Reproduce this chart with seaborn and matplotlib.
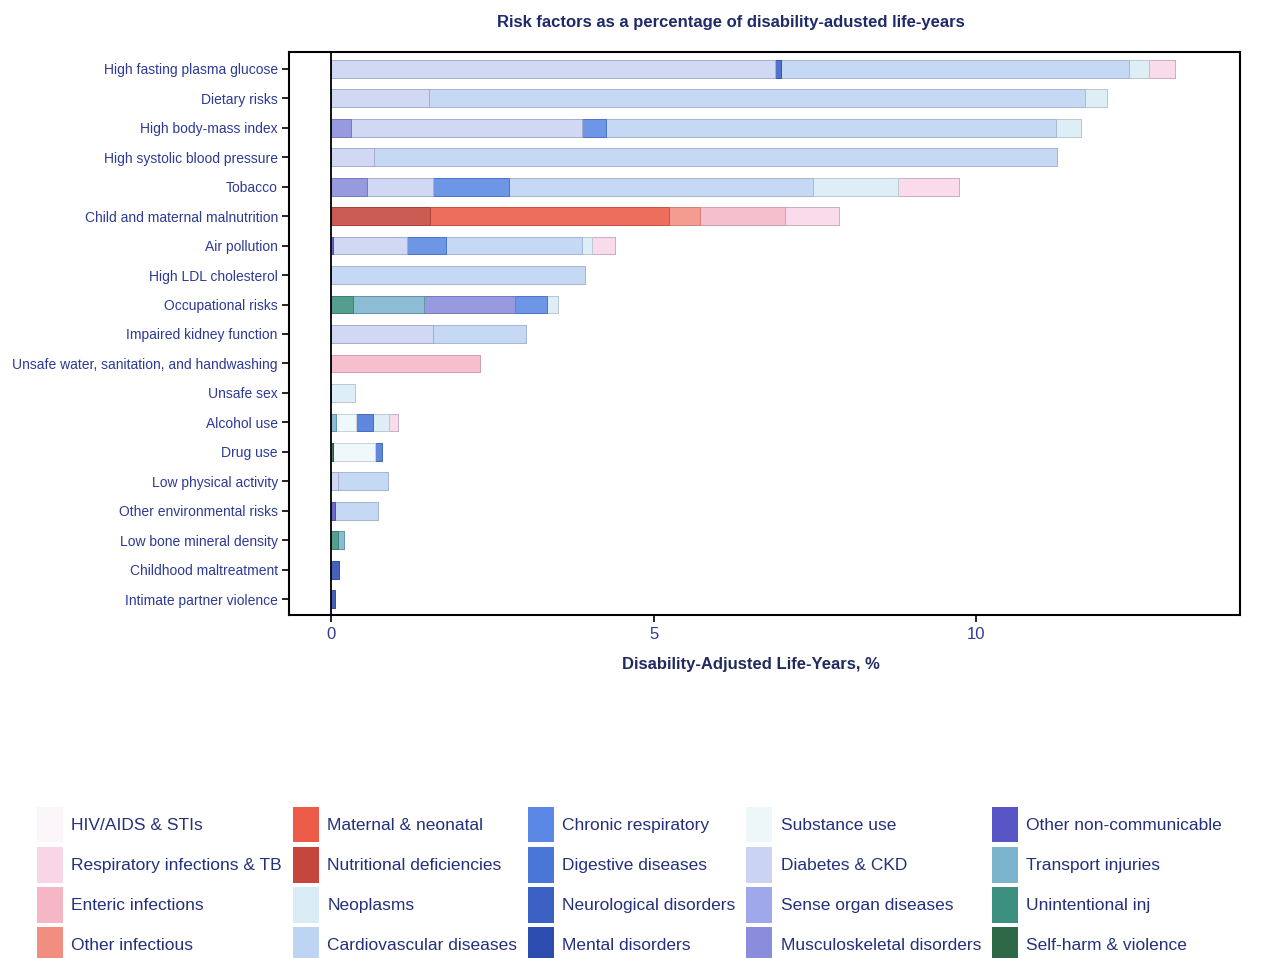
import matplotlib
matplotlib.use("Agg")
import matplotlib.pyplot as plt
from matplotlib.patches import Patch
import numpy as np
import pandas as pd
import seaborn as sns

# Risk factors, top to bottom
risks = [
    "High fasting plasma glucose", "Dietary risks", "High body-mass index",
    "High systolic blood pressure", "Tobacco", "Child and maternal malnutrition",
    "Air pollution", "High LDL cholesterol", "Occupational risks",
    "Impaired kidney function", "Unsafe water, sanitation, and handwashing",
    "Unsafe sex", "Alcohol use", "Drug use", "Low physical activity",
    "Other environmental risks", "Low bone mineral density",
    "Childhood maltreatment", "Intimate partner violence",
]

# Cause groups in legend order, with their colours
causes = [
    "HIV/AIDS & STIs", "Respiratory infections & TB", "Enteric infections", "Other infectious",
    "Maternal & neonatal", "Nutritional deficiencies", "Neoplasms", "Cardiovascular diseases",
    "Chronic respiratory", "Digestive diseases", "Neurological disorders", "Mental disorders",
    "Substance use", "Diabetes & CKD", "Sense organ diseases", "Musculoskeletal disorders",
    "Other non-communicable", "Transport injuries", "Unintentional inj", "Self-harm & violence",
]
cause_colors = [
    "#fbf6f9", "#f8d6e8", "#f5b6c6", "#f28e80",
    "#ec5a48", "#c4463c", "#d9ecf6", "#bdd4f2",
    "#5a88e4", "#4a76d8", "#3a60c4", "#2c4cb0",
    "#edf7fa", "#cbd3f3", "#a0a8ec", "#8a8cdc",
    "#5856c6", "#7cb4ce", "#3d9080", "#2e6846",
]

# DALY share (%) attributable to each risk, per cause (one value per risk factor)
hiv_stis      = [0, 0, 0, 0, 0, 0, 0, 0, 0, 0, 0, 0, 0, 0, 0, 0, 0, 0, 0]
resp_inf_tb   = [0.41, 0, 0, 0, 0.95, 0.85, 0.36, 0, 0, 0, 0, 0, 0.14, 0, 0, 0, 0, 0, 0]
enteric       = [0, 0, 0, 0, 0, 1.32, 0, 0, 0, 0, 2.30, 0, 0, 0, 0, 0, 0, 0, 0]
other_inf     = [0, 0, 0, 0, 0, 0.47, 0, 0, 0, 0, 0, 0, 0, 0, 0, 0, 0, 0, 0]
maternal      = [0, 0, 0, 0, 0, 3.71, 0, 0, 0, 0, 0, 0, 0, 0, 0, 0, 0, 0, 0]
nutritional   = [0, 0, 0, 0, 0, 1.53, 0, 0, 0, 0, 0, 0, 0, 0, 0, 0, 0, 0, 0]
neoplasms     = [0.31, 0.34, 0.38, 0, 1.32, 0, 0.16, 0, 0.16, 0, 0, 0.37, 0.24, 0, 0, 0, 0, 0, 0]
cardiovasc    = [5.40, 10.17, 6.98, 10.60, 4.71, 0, 2.10, 3.93, 0, 1.45, 0, 0, 0, 0, 0.77, 0.68, 0, 0, 0]
chronic_resp  = [0, 0, 0.38, 0, 1.18, 0, 0.61, 0, 0.51, 0, 0, 0, 0, 0, 0, 0, 0, 0, 0]
digestive     = [0, 0, 0, 0, 0, 0, 0, 0, 0, 0, 0, 0, 0.27, 0.12, 0, 0, 0, 0, 0]
neurological  = [0.09, 0, 0, 0, 0, 0, 0, 0, 0, 0, 0, 0, 0, 0, 0, 0, 0, 0, 0]
mental        = [0, 0, 0, 0, 0, 0, 0, 0, 0, 0, 0, 0, 0, 0, 0, 0, 0, 0.12, 0.05]
substance     = [0, 0, 0, 0, 0, 0, 0, 0, 0, 0, 0, 0, 0.31, 0.65, 0, 0, 0, 0, 0]
diabetes_ckd  = [6.88, 1.52, 3.58, 0.66, 1.03, 0, 1.14, 0, 0, 1.57, 0, 0, 0, 0, 0.10, 0, 0, 0, 0]
sense_organ   = [0, 0, 0, 0, 0, 0, 0, 0, 0, 0, 0, 0, 0, 0, 0, 0, 0, 0, 0]
musculoskel   = [0, 0, 0.30, 0, 0.55, 0, 0, 0, 1.41, 0, 0, 0, 0, 0, 0, 0, 0, 0, 0]
other_ncd     = [0, 0, 0, 0, 0, 0, 0.03, 0, 0, 0, 0, 0, 0, 0, 0, 0.05, 0, 0, 0]
transport     = [0, 0, 0, 0, 0, 0, 0, 0, 1.09, 0, 0, 0, 0.07, 0, 0, 0, 0.09, 0, 0]
unintentional = [0, 0, 0, 0, 0, 0, 0, 0, 0.34, 0, 0, 0, 0, 0, 0, 0, 0.10, 0, 0]
self_harm     = [0, 0, 0, 0, 0, 0, 0, 0, 0, 0, 0, 0, 0, 0.02, 0, 0, 0, 0, 0]

values = dict(zip(causes, [
    hiv_stis, resp_inf_tb, enteric, other_inf, maternal, nutritional, neoplasms,
    cardiovasc, chronic_resp, digestive, neurological, mental, substance,
    diabetes_ckd, sense_organ, musculoskel, other_ncd, transport, unintentional,
    self_harm,
]))
color_of = dict(zip(causes, cause_colors))

# Order in which segments are stacked from zero outwards
stack_order = [
    "Unintentional inj", "Transport injuries", "Self-harm & violence",
    "Other non-communicable", "Musculoskeletal disorders", "Sense organ diseases",
    "Nutritional deficiencies", "Maternal & neonatal", "Other infectious",
    "Substance use", "Diabetes & CKD", "Neurological disorders",
    "Chronic respiratory", "Digestive diseases", "Cardiovascular diseases",
    "Neoplasms", "Enteric infections", "Respiratory infections & TB",
    "Mental disorders", "HIV/AIDS & STIs",
]

df = pd.DataFrame(values, index=risks)[stack_order]
cum = df.cumsum(axis=1)

sns.set_style("ticks")
plt.rcParams["font.family"] = ["Liberation Sans", "DejaVu Sans"]

fig = plt.figure(figsize=(12.67, 9.58), dpi=100)
ax = fig.add_axes([0.228, 0.358, 0.751, 0.588])


def lighten(hex_color, amount):
    rgb = np.array(matplotlib.colors.to_rgb(hex_color))
    return tuple(rgb + (1 - rgb) * amount)


def darken(hex_color, amount):
    rgb = np.array(matplotlib.colors.to_rgb(hex_color))
    return tuple(rgb * (1 - amount))


# Stacked bars: draw cumulative totals from the outermost segment inwards
for cause in reversed(stack_order):
    plot_df = pd.DataFrame({"risk": risks, "total": cum[cause].values})
    sns.barplot(
        data=plot_df, x="total", y="risk", orient="h", ax=ax,
        color=lighten(color_of[cause], 0.12), saturation=1,
        width=0.6, edgecolor=darken(color_of[cause], 0.15), linewidth=0.6,
    )

ax.axvline(0, color="black", lw=1.3, zorder=5)
ax.set_xlim(-0.66, 14.1)
ax.set_ylim(len(risks) - 1 + 0.54, -0.58)
ax.set_xticks([0, 5, 10])

label_color = "#2d3a96"
ax.tick_params(axis="y", labelsize=10.0, labelcolor=label_color, length=5, width=1.2,
               color="black", pad=3)
ax.tick_params(axis="x", labelsize=12, labelcolor=label_color, length=5, width=1.2,
               color="black")
ax.set_ylabel("")
ax.set_xlabel("Disability-Adjusted Life-Years, %", fontsize=12, fontweight="bold",
              color="#1f2a5e", labelpad=10)
ax.xaxis.set_label_coords(0.486, -0.075)
for spine in ax.spines.values():
    spine.set_visible(True)
    spine.set_color("black")
    spine.set_linewidth(1.5)

fig.text(0.577, 0.977, "Risk factors as a percentage of disability-adusted life-years",
         ha="center", va="center", fontsize=12, fontweight="bold", color="#1f2a6a")

handles = [Patch(facecolor=c, edgecolor="none") for c in cause_colors]
fig.legend(
    handles, causes, ncol=5, loc="upper left", bbox_to_anchor=(0.029, 0.158),
    frameon=False, fontsize=12.5, handlelength=1.5, handleheight=2.8,
    handletextpad=0.5, labelspacing=0.25, columnspacing=0.6,
    borderpad=0, borderaxespad=0, labelcolor="#24307a",
)

fig.savefig("out.png", dpi=100, facecolor="white")
